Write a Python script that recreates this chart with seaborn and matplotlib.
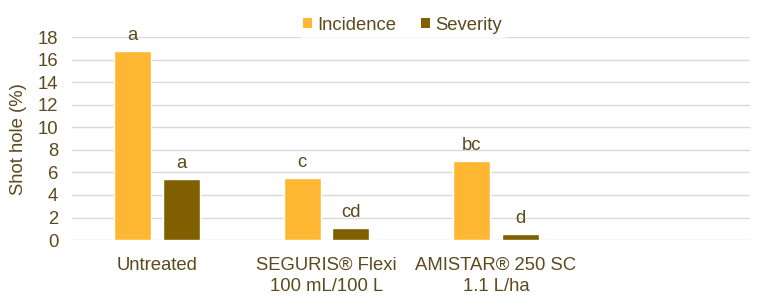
import matplotlib
matplotlib.use("Agg")
import matplotlib.pyplot as plt
import seaborn as sns
import pandas as pd
import numpy as np
from matplotlib.patches import Patch

categories = ["Untreated", "SEGURIS® Flexi\n100 mL/100 L", "AMISTAR® 250 SC\n1.1 L/ha", " "]
incidence = [16.8, 5.5, 7.0, np.nan]
severity = [5.4, 1.1, 0.5, np.nan]
incidence_letters = ["a", "c", "bc", ""]
severity_letters = ["a", "cd", "d", ""]
series = ["Incidence", "Severity"]
colors = ["#FDB732", "#7F5F00"]
text_color = "#5B4A1C"
fs = 13.3

df = pd.DataFrame({
    "Treatment": categories * 2,
    "Series": [series[0]] * 4 + [series[1]] * 4,
    "Value": incidence + severity,
})

sns.set_theme(style="white")
plt.rcParams["font.family"] = ["Liberation Sans", "DejaVu Sans"]

fig = plt.figure(figsize=(7.68, 3.02), dpi=100)
ax = fig.add_axes([0.094, 0.205, 0.883, 0.672])

sns.barplot(data=df, x="Treatment", y="Value", hue="Series", order=categories,
            hue_order=series, palette=colors, width=0.57, gap=0.23,
            ax=ax, legend=False, saturation=1, zorder=3)

ax.set_ylim(0, 18)
ax.set_xlim(-0.5, 3.5)
ax.set_yticks(range(0, 19, 2))
ax.yaxis.grid(True, color="#D9D9D9", linewidth=1.0, zorder=0)
ax.set_axisbelow(True)
for s in ax.spines.values():
    s.set_visible(False)
ax.tick_params(axis="y", length=0, labelsize=fs, labelcolor=text_color, pad=10)
ax.tick_params(axis="x", length=0, labelsize=fs, labelcolor=text_color, pad=12)
for lbl in ax.get_xticklabels():
    lbl.set_linespacing(1.35)
ax.set_xlabel("")
ax.set_ylabel("Shot hole (%)", fontsize=fs, color=text_color, labelpad=8)

# letters above bars
offset = 0.1425
for i in range(len(categories)):
    for vals, letters, sgn in [(incidence, incidence_letters, -1), (severity, severity_letters, 1)]:
        v = vals[i]
        if letters[i] and not np.isnan(v):
            ax.annotate(letters[i], (i + sgn * offset, v), xytext=(0, 11),
                        textcoords="offset pixels", ha="center", va="baseline",
                        fontsize=fs, color=text_color)

handles = [Patch(facecolor=c, edgecolor="none") for c in colors]
leg = fig.legend(handles, series, loc="center", bbox_to_anchor=(0.524, 0.917), ncol=2,
                 frameon=True, fontsize=fs, handlelength=0.5, handleheight=0.5,
                 handletextpad=0.3, columnspacing=1.3, borderpad=0.2)
leg.get_frame().set_facecolor("white")
leg.get_frame().set_edgecolor("white")
for t in leg.get_texts():
    t.set_color(text_color)

fig.savefig("out.png", dpi=100, facecolor="white")
